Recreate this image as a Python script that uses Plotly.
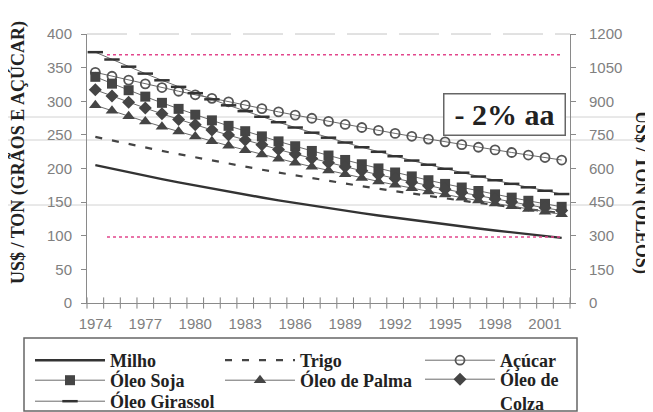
import plotly.graph_objects as go

years = list(range(1974, 2003))
tick_years = list(range(1974, 2002, 3))
tick_labels = [str(y) for y in tick_years]

# left axis (US$/ton grãos e açúcar)
milho = [205, 199.6, 194.3, 189.2, 184.2, 179.3, 174.6, 170.0, 165.5, 161.1,
         156.9, 152.7, 148.7, 144.8, 141.0, 137.2, 133.6, 130.1, 126.7, 123.3,
         120.1, 116.9, 113.8, 110.8, 107.9, 105.0, 102.3, 99.6, 96.9]
trigo = [247, 241.6, 236.4, 231.2, 226.2, 221.3, 216.5, 211.8, 207.2, 202.7,
         198.2, 193.9, 189.7, 185.6, 181.5, 177.6, 173.7, 169.9, 166.2, 162.6,
         159.1, 155.6, 152.2, 148.9, 145.7, 142.5, 139.4, 136.4, 133.4]
acucar = [343, 337.2, 331.5, 325.9, 320.4, 314.9, 309.6, 304.3, 299.2, 294.1,
          289.1, 284.2, 279.4, 274.7, 270.0, 265.5, 261.0, 256.6, 252.2, 247.9,
          243.7, 239.6, 235.5, 231.6, 227.6, 223.8, 220.0, 216.3, 212.6]
# right axis (US$/ton óleos)
oleo_soja = [1009, 978.6, 949.2, 920.6, 892.9, 866.0, 840.0, 814.7, 790.2, 766.4,
             743.3, 721.0, 699.3, 678.3, 657.9, 638.1, 618.9, 600.3, 582.2, 564.7,
             547.7, 531.2, 515.2, 499.7, 484.7, 470.1, 456.0, 442.3, 429.0]
oleo_palma = [882, 857.1, 833.0, 809.5, 786.7, 764.5, 742.9, 722.0, 701.6, 681.8,
              662.6, 643.9, 625.7, 608.1, 590.9, 574.3, 558.1, 542.3, 527.0, 512.2,
              497.7, 483.7, 470.0, 456.8, 443.9, 431.4, 419.2, 407.4, 395.9]
oleo_colza = [951, 923.0, 895.8, 869.5, 843.9, 819.1, 795.0, 771.6, 748.9, 726.8,
              705.4, 684.7, 664.5, 645.0, 626.0, 607.6, 589.7, 572.4, 555.5, 539.2,
              523.3, 507.9, 493.0, 478.4, 464.4, 450.7, 437.4, 424.6, 412.1]
oleo_girassol = [1119, 1086.2, 1054.3, 1023.4, 993.4, 964.2, 935.9, 908.5, 881.8, 855.9,
                 830.8, 806.4, 782.8, 759.8, 737.5, 715.9, 694.9, 674.5, 654.7, 635.5,
                 616.9, 598.8, 581.2, 564.2, 547.6, 531.6, 516.0, 500.8, 486.1]
ref_levels = [369, 98]

OFF = 8  # page body margin
W, H = 653 - OFF, 412 - OFF
L, R, T, B = 87 - OFF, 83, 34 - OFF, 109
pw, ph = W - L - R, H - T - B

def px(x):
    return (x - OFF - L) / pw

def py(y):
    return (H - B - (y - OFF)) / ph

DARK = "#333333"
MK = "#454545"
THIN = "#6a6a6a"
AX = "#8a8a8a"

boundaries = [y - 0.5 for y in years] + [years[-1] + 0.5]

fig = go.Figure()
# category boundary tick marks crossing the x axis
fig.add_trace(go.Scatter(x=boundaries, y=[0] * len(boundaries), mode="markers",
                         marker=dict(symbol="line-ns-open", size=8, color="#808080",
                                     line=dict(color="#808080", width=1)),
                         cliponaxis=False, showlegend=False, hoverinfo="skip"))
fig.add_trace(go.Scatter(x=years, y=milho, name="Milho", mode="lines",
                         line=dict(color=DARK, width=2.4), legend="legend"))
fig.add_trace(go.Scatter(x=years, y=trigo, name="Trigo", mode="lines",
                         line=dict(color="#444444", width=2.2, dash="7px,10px"), legend="legend2"))
fig.add_trace(go.Scatter(x=years, y=acucar, name="Açúcar", mode="lines+markers",
                         line=dict(color=THIN, width=1),
                         marker=dict(symbol="circle-open", size=9, color="#555555",
                                     line=dict(width=1.8)), legend="legend3"))
fig.add_trace(go.Scatter(x=years, y=oleo_soja, name="Óleo Soja", mode="lines+markers", yaxis="y2",
                         line=dict(color=THIN, width=1),
                         marker=dict(symbol="square", size=10, color=MK), legend="legend4"))
fig.add_trace(go.Scatter(x=years, y=oleo_palma, name="Óleo de Palma", mode="lines+markers", yaxis="y2",
                         line=dict(color=THIN, width=1),
                         marker=dict(symbol="triangle-up", size=11, color=MK), legend="legend5"))
fig.add_trace(go.Scatter(x=years, y=oleo_colza, name="Óleo de<br>Colza", mode="lines+markers", yaxis="y2",
                         line=dict(color=THIN, width=1),
                         marker=dict(symbol="diamond", size=10, color=MK), legend="legend6"))
fig.add_trace(go.Scatter(x=years, y=oleo_girassol, name="Óleo Girassol", mode="lines+markers", yaxis="y2",
                         line=dict(color=THIN, width=1),
                         marker=dict(symbol="line-ew", size=11, color=DARK,
                                     line=dict(color=DARK, width=2.5)), legend="legend7"))

tick_font = dict(family="Liberation Sans, Arial", size=15, color="#808080")
legend_font = dict(family="Liberation Serif, Times New Roman", size=18, color="#222222", weight="bold")

def leg(xpix, ycenter, valign="middle"):
    return dict(x=px(xpix), y=py(ycenter - 16), xref="paper", yref="paper",
                xanchor="left", yanchor="top", font=legend_font, bgcolor="rgba(0,0,0,0)",
                borderwidth=0, itemwidth=70, traceorder="normal", valign=valign,
                tracegroupgap=0)

shapes = []
# faint scan lines across the image
for yy in [117, 140, 205]:
    shapes.append(dict(type="line", xref="paper", yref="paper", x0=px(OFF), x1=px(653),
                       y0=py(yy), y1=py(yy), line=dict(color="#d2d2d2", width=1), layer="below"))
# top border (faint)
shapes.append(dict(type="line", xref="paper", yref="paper", x0=0, x1=1, y0=1, y1=1,
                   line=dict(color="#c4c4c4", width=1, dash="40px,12px")))
# reference dotted lines
for lv in ref_levels:
    shapes.append(dict(type="line", xref="x", yref="y", x0=1974.7, x1=2002.0, y0=lv, y1=lv,
                       line=dict(color="#e2468c", width=1.5, dash="dot")))
# legend frame
shapes.append(dict(type="rect", xref="paper", yref="paper", x0=px(24), x1=px(577),
                   y0=py(411), y1=py(338), line=dict(color="#666666", width=1.5)))

title_font = dict(family="Liberation Serif, Times New Roman", size=18, color="#222222", weight="bold")
annotations = [
    dict(text="US$ / TON (GRÃOS E AÇÚCAR)", xref="paper", yref="paper", x=px(18), y=py(153),
         textangle=-90, showarrow=False, font=title_font, xanchor="center", yanchor="middle"),
    dict(text="US$ / TON (ÓLEOS)", xref="paper", yref="paper", x=px(642), y=py(192),
         textangle=90, showarrow=False, font=title_font, xanchor="center", yanchor="middle"),
    dict(text="- 2% aa", xref="paper", yref="paper", x=px(504), y=py(115),
         xanchor="center", yanchor="middle",
         showarrow=False, width=116, height=36, bgcolor="white", bordercolor="#666666",
         borderwidth=1.5, borderpad=2,
         font=dict(family="Liberation Serif, Times New Roman", size=30, color="#222222", weight="bold")),
]

fig.update_layout(
    width=W, height=H, autosize=False,
    margin=dict(l=L, r=R, t=T, b=B, autoexpand=False),
    paper_bgcolor="white", plot_bgcolor="white",
    xaxis=dict(range=[1973.5, 2002.5], tickmode="array", tickvals=tick_years, ticktext=tick_labels,
               ticks="", showgrid=False, zeroline=False, showline=True, linecolor=AX,
               linewidth=1, tickfont=tick_font, ticklabelstandoff=7, automargin=False),
    yaxis=dict(range=[0, 400], dtick=50, tick0=0, ticks="outside", ticklen=5, tickcolor=AX,
               showgrid=False, zeroline=False, showline=True, linecolor=AX, linewidth=1,
               tickfont=tick_font, ticklabelstandoff=6, automargin=False),
    yaxis2=dict(range=[0, 1200], dtick=150, tick0=0, overlaying="y", side="right", ticks="outside",
                ticklen=5, tickcolor=AX, showgrid=False, zeroline=False, showline=True,
                linecolor=AX, linewidth=1, tickfont=tick_font, ticklabelstandoff=10,
                automargin=False),
    legend=leg(30, 358),
    legend2=leg(220, 358),
    legend3=leg(420, 358),
    legend4=leg(30, 378),
    legend5=leg(220, 378),
    legend6=leg(420, 377, valign="top"),
    legend7=leg(30, 399),
    shapes=shapes,
    annotations=annotations,
    showlegend=True,
)

fig.write_html("out.html")
